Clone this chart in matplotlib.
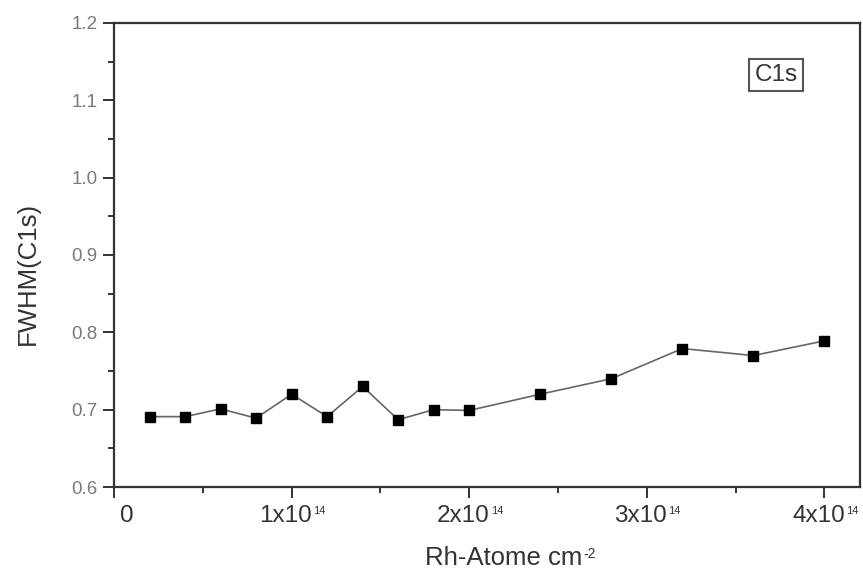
import matplotlib
matplotlib.use("Agg")
import matplotlib.pyplot as plt
import matplotlib.transforms as mtransforms
from matplotlib.ticker import MultipleLocator, FuncFormatter, NullFormatter

plt.rcParams['font.family'] = ['Liberation Sans', 'DejaVu Sans']

# Rh coverage (atoms per cm^2) and C1s peak width
rh_coverage = [0.2e14, 0.4e14, 0.6e14, 0.8e14, 1.0e14, 1.2e14, 1.4e14, 1.6e14,
               1.8e14, 2.0e14, 2.4e14, 2.8e14, 3.2e14, 3.6e14, 4.0e14]
fwhm_c1s = [0.691, 0.691, 0.701, 0.689, 0.720, 0.691, 0.730, 0.687,
            0.700, 0.699, 0.720, 0.740, 0.779, 0.770, 0.789]

x_ticks = [0, 1e14, 2e14, 3e14, 4e14]
x_tick_mantissa = ['0', '1x10', '2x10', '3x10', '4x10']
x_tick_exponent = ['', '14', '14', '14', '14']
y_ticks = [0.6, 0.7, 0.8, 0.9, 1.0, 1.1, 1.2]

DARK = '#333333'
GREY = '#7a7a7a'

fig = plt.figure(figsize=(8.63, 5.72), dpi=100)
ax = fig.add_axes([0.1321, 0.1486, 0.8644, 0.8112])

ax.plot(rh_coverage, fwhm_c1s, color='#666666', linewidth=1.2,
        marker='s', markersize=7, markerfacecolor='black',
        markeredgecolor='black', zorder=3)

ax.set_xlim(0, 4.2e14)
ax.set_ylim(0.6, 1.2)
ax.set_xticks(x_ticks)
ax.set_yticks(y_ticks)
ax.xaxis.set_minor_locator(MultipleLocator(0.5e14))
ax.yaxis.set_minor_locator(MultipleLocator(0.05))
ax.xaxis.set_major_formatter(NullFormatter())
ax.yaxis.set_major_formatter(FuncFormatter(lambda v, p: '%.1f' % v))

for side in ['left', 'right', 'top', 'bottom']:
    ax.spines[side].set_linewidth(1.6)
    ax.spines[side].set_color(DARK)

ax.tick_params(axis='both', which='major', direction='out', length=8,
               width=1.4, color=DARK)
ax.tick_params(axis='both', which='minor', direction='out', length=4.5,
               width=1.4, color=DARK)
ax.tick_params(axis='y', labelsize=13.5, labelcolor=GREY, pad=4)

# x tick labels: mantissa with a small raised exponent
xtrans = mtransforms.blended_transform_factory(ax.transData, ax.transAxes)
for xv, mant, expo in zip(x_ticks, x_tick_mantissa, x_tick_exponent):
    shift = -4.3 if expo else 9
    base = ax.annotate(mant, xy=(xv, 0), xycoords=xtrans,
                       xytext=(shift, -25.2), textcoords='offset points',
                       ha='center', va='baseline', fontsize=17.5, color=DARK,
                       annotation_clip=False)
    if expo:
        ax.annotate(expo, xy=(1, 1), xycoords=base, xytext=(0.8, -1),
                    textcoords='offset points', ha='left', va='top',
                    fontsize=8, color=DARK)

# axis titles
ax.set_xlabel('Rh-Atome cm', fontsize=18.5, color=DARK,
              ha='left', va='baseline')
ax.xaxis.set_label_coords(0.4169, -78 / 464)
ax.annotate('-2', xy=(1, 1), xycoords=ax.xaxis.label, xytext=(1, -0.5),
            textcoords='offset points', ha='left', va='top',
            fontsize=10, color=DARK)

ax.set_ylabel('FWHM(C1s)', fontsize=18.5, color=DARK)
ax.yaxis.set_label_coords(-0.099, 0.461)

ax.text(0.8874, 0.888, 'C1s', transform=ax.transAxes, fontsize=17.5,
        color=DARK, ha='center', va='center',
        bbox=dict(boxstyle='square,pad=0.22', facecolor='white',
                  edgecolor='#555555', linewidth=1.5))

fig.savefig('out.png', dpi=100)
